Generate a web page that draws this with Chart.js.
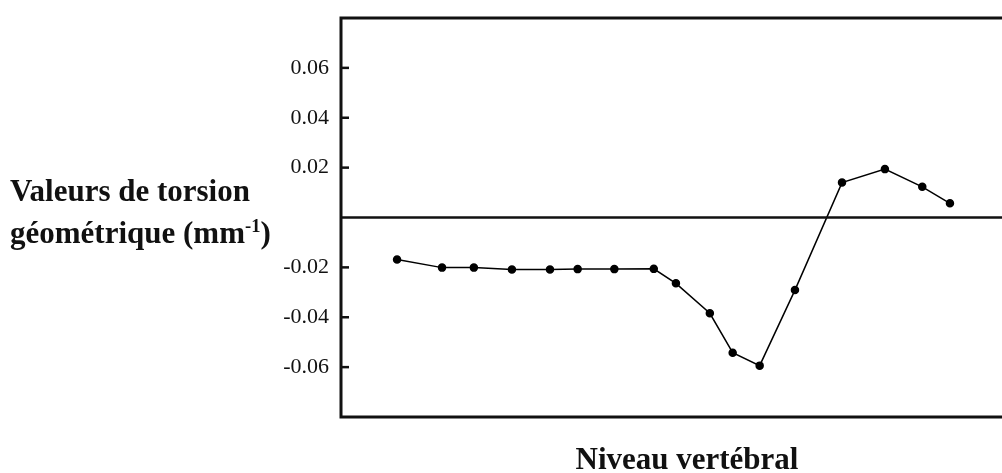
<!DOCTYPE html>
<html>
<head>
<meta charset="utf-8">
<script src="https://cdn.jsdelivr.net/npm/chart.js@4"></script>
<style>
    body { margin: 0; background: #fff; overflow: hidden; width: 1002px; height: 473px; position: relative; }
    #myChart { position: absolute; left: 0; top: 0; }
    #ytitle {
        position: absolute; left: 10px; top: 170px;
        font-family: "Liberation Serif", "Times New Roman", serif;
        font-weight: bold; font-size: 31px; line-height: 42px; color: #111;
        white-space: nowrap;
    }
    #ytitle sup { font-size: 0.6em; line-height: 0; }
</style>
</head>
<body>
<canvas id="myChart" width="1040" height="473"></canvas>
<div id="ytitle">Valeurs de torsion<br>géométrique (mm<sup>-1</sup>)</div>
<script>
// niveau vertébral (position le long de l'axe, 0-100) et torsion (mm-1)
const levels = [8.1, 14.6, 19.2, 24.7, 30.2, 34.2, 39.5, 45.2, 48.4, 53.3, 56.6, 60.5, 65.6, 72.4, 78.6, 84.0, 88.0];
const torsion = [-0.0168, -0.0201, -0.0201, -0.0209, -0.0209, -0.0207, -0.0207, -0.0206, -0.0264, -0.0384, -0.0542, -0.0594, -0.0291, 0.0140, 0.0194, 0.0123, 0.0057];
const yTicks = [-0.06, -0.04, -0.02, 0.02, 0.04, 0.06];

const serif = '"Liberation Serif", "Times New Roman", serif';

// cadre, ligne du zéro et petites graduations vers l'intérieur
const cadre = {
    id: 'cadre',
    afterDraw(chart) {
        const {ctx, chartArea: a, scales: {y}} = chart;
        ctx.save();
        ctx.strokeStyle = '#111';
        ctx.lineWidth = 3;
        ctx.strokeRect(a.left, a.top, a.right - a.left, a.bottom - a.top);
        const y0 = y.getPixelForValue(0);
        ctx.lineWidth = 2.5;
        ctx.beginPath();
        ctx.moveTo(a.left, y0);
        ctx.lineTo(a.right, y0);
        ctx.stroke();
        yTicks.forEach(v => {
            const py = y.getPixelForValue(v);
            ctx.beginPath();
            ctx.moveTo(a.left, py);
            ctx.lineTo(a.left + 8, py);
            ctx.stroke();
        });
        ctx.restore();
    }
};

const ctx = document.getElementById('myChart').getContext('2d');
const myChart = new Chart(ctx, {
    type: 'line',
    data: {
        datasets: [{
            data: levels.map((x, i) => ({x: x, y: torsion[i]})),
            borderColor: '#000',
            borderWidth: 1.5,
            pointRadius: 3.5,
            pointBackgroundColor: '#000',
            pointBorderColor: '#000',
            tension: 0
        }]
    },
    options: {
        responsive: false,
        animation: false,
        layout: {padding: {top: 18, right: 7, left: 0, bottom: 0}},
        plugins: {legend: {display: false}, tooltip: {enabled: false}},
        scales: {
            x: {
                type: 'linear',
                min: 0,
                max: 100,
                grid: {display: false},
                border: {display: false},
                ticks: {display: false},
                title: {
                    display: true,
                    text: 'Niveau vertébral',
                    color: '#111',
                    font: {family: serif, size: 31, weight: 'bold', lineHeight: 0.8},
                    padding: 0
                },
                afterFit: scale => {
                    scale.height = 56;
                    scale.paddingLeft = 0;
                    scale.paddingRight = 0;
                }
            },
            y: {
                min: -0.08,
                max: 0.08,
                grid: {display: false, drawTicks: false},
                border: {display: false},
                ticks: {
                    stepSize: 0.02,
                    padding: 12,
                    color: '#111',
                    font: {family: serif, size: 22},
                    callback: v => {
                        const k = Math.round(v * 100);
                        return (k === 0 || Math.abs(k) === 8) ? '' : (k / 100).toFixed(2);
                    }
                },
                afterFit: scale => {
                    scale.width = 341;
                    scale.paddingTop = 0;
                    scale.paddingBottom = 0;
                }
            }
        }
    },
    plugins: [cadre]
});
</script>
</body>
</html>
